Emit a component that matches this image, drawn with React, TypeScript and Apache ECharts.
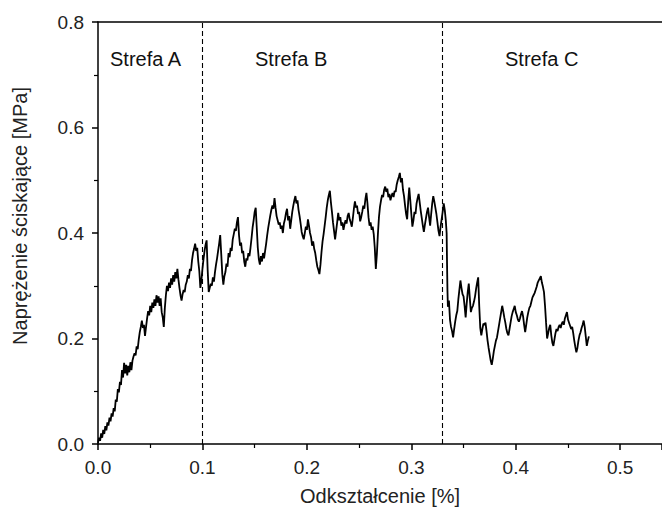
import React, { useEffect, useRef } from "react";
import * as echarts from "echarts";

// [strain %, stress MPa], zone by zone
const zoneA: number[][] = [
  [0.000,0.002],[0.001,0.012],[0.002,0.006],[0.003,0.020],[0.004,0.012],[0.005,0.027],[0.006,0.019],[0.007,0.034],
  [0.008,0.026],[0.009,0.041],[0.010,0.035],[0.011,0.050],[0.012,0.043],[0.013,0.058],[0.014,0.052],[0.015,0.068],
  [0.016,0.062],[0.017,0.084],[0.018,0.080],[0.019,0.104],[0.020,0.098],[0.021,0.118],[0.022,0.112],[0.023,0.140],
  [0.024,0.126],[0.025,0.154],[0.026,0.134],[0.027,0.150],[0.028,0.130],[0.029,0.148],[0.030,0.136],[0.031,0.155],
  [0.032,0.140],[0.033,0.158],[0.034,0.166],[0.035,0.172],[0.036,0.168],[0.037,0.185],[0.038,0.180],[0.039,0.198],
  [0.040,0.212],[0.041,0.222],[0.042,0.234],[0.043,0.220],[0.044,0.226],[0.045,0.205],[0.046,0.222],[0.047,0.238],
  [0.048,0.252],[0.049,0.244],[0.050,0.262],[0.051,0.250],[0.052,0.268],[0.053,0.258],[0.054,0.274],[0.055,0.262],
  [0.056,0.282],[0.057,0.268],[0.058,0.280],[0.059,0.262],[0.060,0.276],[0.061,0.250],[0.062,0.240],[0.063,0.222],
  [0.064,0.258],[0.065,0.282],[0.066,0.300],[0.067,0.290],[0.068,0.306],[0.069,0.296],[0.070,0.314],[0.071,0.302],
  [0.072,0.320],[0.073,0.308],[0.074,0.326],[0.075,0.314],[0.076,0.332],[0.077,0.312],[0.078,0.296],[0.079,0.282],
  [0.080,0.272],[0.081,0.284],[0.082,0.292],[0.083,0.288],[0.084,0.302],[0.085,0.308],[0.086,0.320],[0.087,0.314],
  [0.088,0.332],[0.089,0.328],[0.090,0.348],[0.091,0.362],[0.092,0.370],[0.093,0.380],[0.094,0.366],[0.095,0.372],
  [0.096,0.346],[0.097,0.328],
];

const zoneB: number[][] = [
  [0.098,0.296],[0.099,0.310],[0.100,0.332],[0.101,0.350],[0.102,0.366],[0.103,0.378],[0.104,0.386],[0.105,0.330],
  [0.106,0.288],[0.107,0.296],[0.108,0.304],[0.109,0.300],[0.110,0.316],[0.111,0.308],[0.112,0.326],[0.113,0.340],
  [0.114,0.352],[0.115,0.366],[0.116,0.380],[0.117,0.396],[0.118,0.360],[0.119,0.322],[0.120,0.302],[0.121,0.318],
  [0.122,0.326],[0.123,0.342],[0.124,0.336],[0.125,0.362],[0.126,0.354],[0.127,0.372],[0.128,0.366],[0.129,0.388],
  [0.130,0.398],[0.131,0.408],[0.132,0.404],[0.133,0.420],[0.134,0.430],[0.135,0.396],[0.136,0.376],[0.137,0.382],
  [0.138,0.362],[0.139,0.366],[0.140,0.346],[0.141,0.336],[0.142,0.352],[0.143,0.348],[0.144,0.362],[0.145,0.356],
  [0.146,0.372],[0.147,0.390],[0.148,0.410],[0.149,0.424],[0.150,0.440],[0.151,0.448],[0.152,0.410],[0.153,0.372],
  [0.154,0.350],[0.155,0.340],[0.156,0.356],[0.157,0.346],[0.158,0.362],[0.159,0.352],[0.160,0.366],[0.161,0.380],
  [0.162,0.396],[0.163,0.410],[0.164,0.422],[0.165,0.434],[0.166,0.444],[0.167,0.452],[0.168,0.446],[0.169,0.466],
  [0.170,0.448],[0.171,0.432],[0.172,0.424],[0.173,0.416],[0.174,0.420],[0.175,0.408],[0.176,0.414],[0.177,0.400],
  [0.178,0.418],[0.179,0.426],[0.180,0.438],[0.181,0.446],[0.182,0.424],[0.183,0.432],[0.184,0.408],[0.185,0.424],
  [0.186,0.440],[0.187,0.452],[0.188,0.462],[0.189,0.470],[0.190,0.456],[0.191,0.462],[0.192,0.444],[0.193,0.432],
  [0.194,0.418],[0.195,0.402],[0.196,0.394],[0.197,0.388],[0.198,0.400],[0.199,0.412],[0.200,0.406],[0.201,0.426],
  [0.202,0.414],[0.203,0.400],[0.204,0.392],[0.205,0.376],[0.206,0.384],[0.207,0.370],[0.208,0.362],[0.209,0.348],
  [0.210,0.336],[0.211,0.330],[0.212,0.322],[0.213,0.340],[0.214,0.364],[0.215,0.384],[0.216,0.398],[0.217,0.414],
  [0.218,0.430],[0.219,0.448],[0.220,0.462],[0.221,0.472],[0.222,0.480],[0.223,0.458],[0.224,0.440],[0.225,0.420],
  [0.226,0.404],[0.227,0.388],[0.228,0.404],[0.229,0.420],[0.230,0.438],[0.231,0.424],[0.232,0.430],[0.233,0.414],
  [0.234,0.420],[0.235,0.406],[0.236,0.416],[0.237,0.424],[0.238,0.418],[0.239,0.432],[0.240,0.438],[0.241,0.426],
  [0.242,0.420],[0.243,0.412],[0.244,0.428],[0.245,0.446],[0.246,0.460],[0.247,0.448],[0.248,0.452],[0.249,0.436],
  [0.250,0.440],[0.251,0.422],[0.252,0.430],[0.253,0.440],[0.254,0.452],[0.255,0.446],[0.256,0.464],[0.257,0.476],
  [0.258,0.456],[0.259,0.430],[0.260,0.414],[0.261,0.420],[0.262,0.406],[0.263,0.412],[0.264,0.398],[0.265,0.372],
  [0.266,0.332],[0.267,0.360],[0.268,0.398],[0.269,0.430],[0.270,0.450],[0.271,0.462],[0.272,0.472],[0.273,0.468],
  [0.274,0.482],[0.275,0.488],[0.276,0.478],[0.277,0.484],[0.278,0.468],[0.279,0.474],[0.280,0.462],[0.281,0.470],
  [0.282,0.476],[0.283,0.468],[0.284,0.480],[0.285,0.478],[0.286,0.492],[0.287,0.500],[0.288,0.506],[0.289,0.514],
  [0.290,0.496],[0.291,0.504],[0.292,0.482],[0.293,0.470],[0.294,0.452],[0.295,0.436],[0.296,0.426],[0.297,0.460],
  [0.298,0.486],[0.299,0.462],[0.300,0.436],[0.301,0.412],[0.302,0.424],[0.303,0.440],[0.304,0.436],[0.305,0.456],
  [0.306,0.466],[0.307,0.474],[0.308,0.458],[0.309,0.442],[0.310,0.428],[0.311,0.414],[0.312,0.402],[0.313,0.416],
  [0.314,0.428],[0.315,0.440],[0.316,0.448],[0.317,0.430],[0.318,0.414],[0.319,0.436],[0.320,0.456],[0.321,0.470],
  [0.322,0.460],[0.323,0.448],[0.324,0.436],[0.325,0.420],[0.326,0.404],[0.327,0.394],[0.328,0.412],[0.329,0.426],
  [0.330,0.440],[0.331,0.456],[0.332,0.444],[0.333,0.424],
];

const zoneC: number[][] = [
  [0.3338,0.400],[0.3342,0.340],[0.3346,0.290],[0.335,0.260],[0.336,0.272],[0.337,0.236],[0.338,0.222],[0.339,0.214],
  [0.340,0.202],[0.341,0.218],[0.342,0.232],[0.343,0.244],[0.344,0.252],[0.345,0.274],[0.346,0.292],[0.347,0.310],
  [0.348,0.296],[0.349,0.284],[0.350,0.280],[0.351,0.262],[0.352,0.240],[0.353,0.266],[0.354,0.288],[0.355,0.304],
  [0.356,0.276],[0.357,0.250],[0.358,0.258],[0.359,0.262],[0.360,0.270],[0.361,0.280],[0.362,0.294],[0.363,0.306],
  [0.364,0.316],[0.365,0.262],[0.366,0.220],[0.367,0.206],[0.368,0.218],[0.369,0.228],[0.370,0.226],[0.371,0.230],
  [0.372,0.214],[0.373,0.196],[0.374,0.182],[0.375,0.170],[0.376,0.158],[0.377,0.150],[0.378,0.162],[0.379,0.176],
  [0.380,0.186],[0.381,0.196],[0.382,0.202],[0.383,0.214],[0.384,0.226],[0.385,0.238],[0.386,0.250],[0.387,0.262],
  [0.388,0.252],[0.389,0.240],[0.390,0.230],[0.391,0.218],[0.392,0.210],[0.393,0.206],[0.394,0.218],[0.395,0.230],
  [0.396,0.242],[0.397,0.250],[0.398,0.256],[0.399,0.262],[0.400,0.250],[0.401,0.244],[0.402,0.236],[0.403,0.232],
  [0.404,0.238],[0.405,0.246],[0.406,0.252],[0.407,0.242],[0.408,0.226],[0.409,0.212],[0.410,0.226],[0.411,0.240],
  [0.412,0.250],[0.413,0.258],[0.414,0.262],[0.415,0.270],[0.416,0.278],[0.417,0.282],[0.418,0.286],[0.419,0.292],
  [0.420,0.298],[0.421,0.306],[0.422,0.310],[0.423,0.314],[0.424,0.318],[0.425,0.306],[0.426,0.298],[0.427,0.288],
  [0.428,0.262],[0.429,0.230],[0.430,0.200],[0.431,0.210],[0.432,0.220],[0.433,0.226],[0.434,0.206],[0.435,0.192],
  [0.436,0.186],[0.437,0.198],[0.438,0.210],[0.439,0.218],[0.440,0.214],[0.441,0.222],[0.442,0.226],[0.443,0.220],
  [0.444,0.228],[0.445,0.232],[0.446,0.226],[0.447,0.238],[0.448,0.244],[0.449,0.250],[0.450,0.236],[0.451,0.230],
  [0.452,0.224],[0.453,0.218],[0.454,0.222],[0.455,0.210],[0.456,0.196],[0.457,0.184],[0.458,0.174],[0.459,0.182],
  [0.460,0.196],[0.461,0.206],[0.462,0.212],[0.463,0.220],[0.464,0.226],[0.465,0.234],[0.466,0.222],[0.467,0.204],
  [0.468,0.186],[0.469,0.196],[0.470,0.204],
];

const zoneBoundaries = [0.097, 0.331];
const zoneLabels = ["Strefa A", "Strefa B", "Strefa C"];
const xTitle = "Odkształcenie [%]";
const yTitle = "Naprężenie ściskające [MPa]";

const FONT = "'Liberation Sans', Arial, sans-serif";

export default function App() {
  const ref = useRef<HTMLDivElement>(null);
  useEffect(() => {
    if (!ref.current) return;
    const chart = echarts.init(ref.current, null, { renderer: "svg" });
    const curve = [...zoneA, ...zoneB, ...zoneC];
    const axisLine = { show: true, lineStyle: { color: "#000", width: 1.5 } };
    chart.setOption({
      animation: false,
      backgroundColor: "#fff",
      grid: { left: 98, right: 0, top: 22, bottom: 66, containLabel: false },
      xAxis: [
        {
          type: "value",
          min: 0,
          max: 0.54,
          interval: 0.1,
          name: xTitle,
          nameLocation: "middle",
          nameGap: 42,
          nameTextStyle: { fontFamily: FONT, fontSize: 20, color: "#222" },
          axisLine,
          axisTick: { show: true, inside: false, length: 6, lineStyle: { color: "#000", width: 1.5 } },
          minorTick: { show: true, splitNumber: 2, length: 4, lineStyle: { color: "#000", width: 1.2 } },
          splitLine: { show: false },
          axisLabel: {
            margin: 14,
            fontFamily: FONT,
            fontSize: 19,
            color: "#222",
            showMaxLabel: false,
            formatter: (v: number) => v.toFixed(1),
          },
        },
        {
          type: "value",
          position: "top",
          min: 0,
          max: 0.54,
          axisLine,
          axisTick: { show: false },
          axisLabel: { show: false },
          splitLine: { show: false },
        },
      ],
      yAxis: {
        type: "value",
        min: 0,
        max: 0.8,
        interval: 0.2,
        name: yTitle,
        nameLocation: "middle",
        nameGap: 68,
        nameRotate: 90,
        nameTextStyle: { fontFamily: FONT, fontSize: 20, color: "#222", padding: [0, 0, 0, 34] },
        axisLine,
        axisTick: { show: true, inside: false, length: 6, lineStyle: { color: "#000", width: 1.5 } },
        minorTick: { show: true, splitNumber: 2, length: 4, lineStyle: { color: "#000", width: 1.2 } },
        splitLine: { show: false },
        axisLabel: {
          margin: 14,
          fontFamily: FONT,
          fontSize: 19,
          color: "#222",
          formatter: (v: number) => v.toFixed(1),
        },
      },
      series: [
        {
          type: "line",
          data: curve,
          showSymbol: false,
          symbol: "none",
          lineStyle: { color: "#000", width: 1.8 },
          markLine: {
            silent: true,
            symbol: "none",
            label: { show: false },
            lineStyle: { color: "#000", type: [5, 3], width: 1.1 },
            data: zoneBoundaries.map((x) => ({ xAxis: x })),
          },
        },
      ],
      graphic: [
        { type: "text", left: 110, top: 49, style: { text: zoneLabels[0], font: `20px ${FONT}`, fill: "#111" } },
        { type: "text", left: 255, top: 49, style: { text: zoneLabels[1], font: `20px ${FONT}`, fill: "#111" } },
        { type: "text", left: 505, top: 49, style: { text: zoneLabels[2], font: `20px ${FONT}`, fill: "#111" } },
      ],
    });
    return () => chart.dispose();
  }, []);
  return (
    <div
      ref={ref}
      style={{ position: "absolute", left: 0, top: 0, width: 662, height: 511, background: "#fff" }}
    />
  );
}
